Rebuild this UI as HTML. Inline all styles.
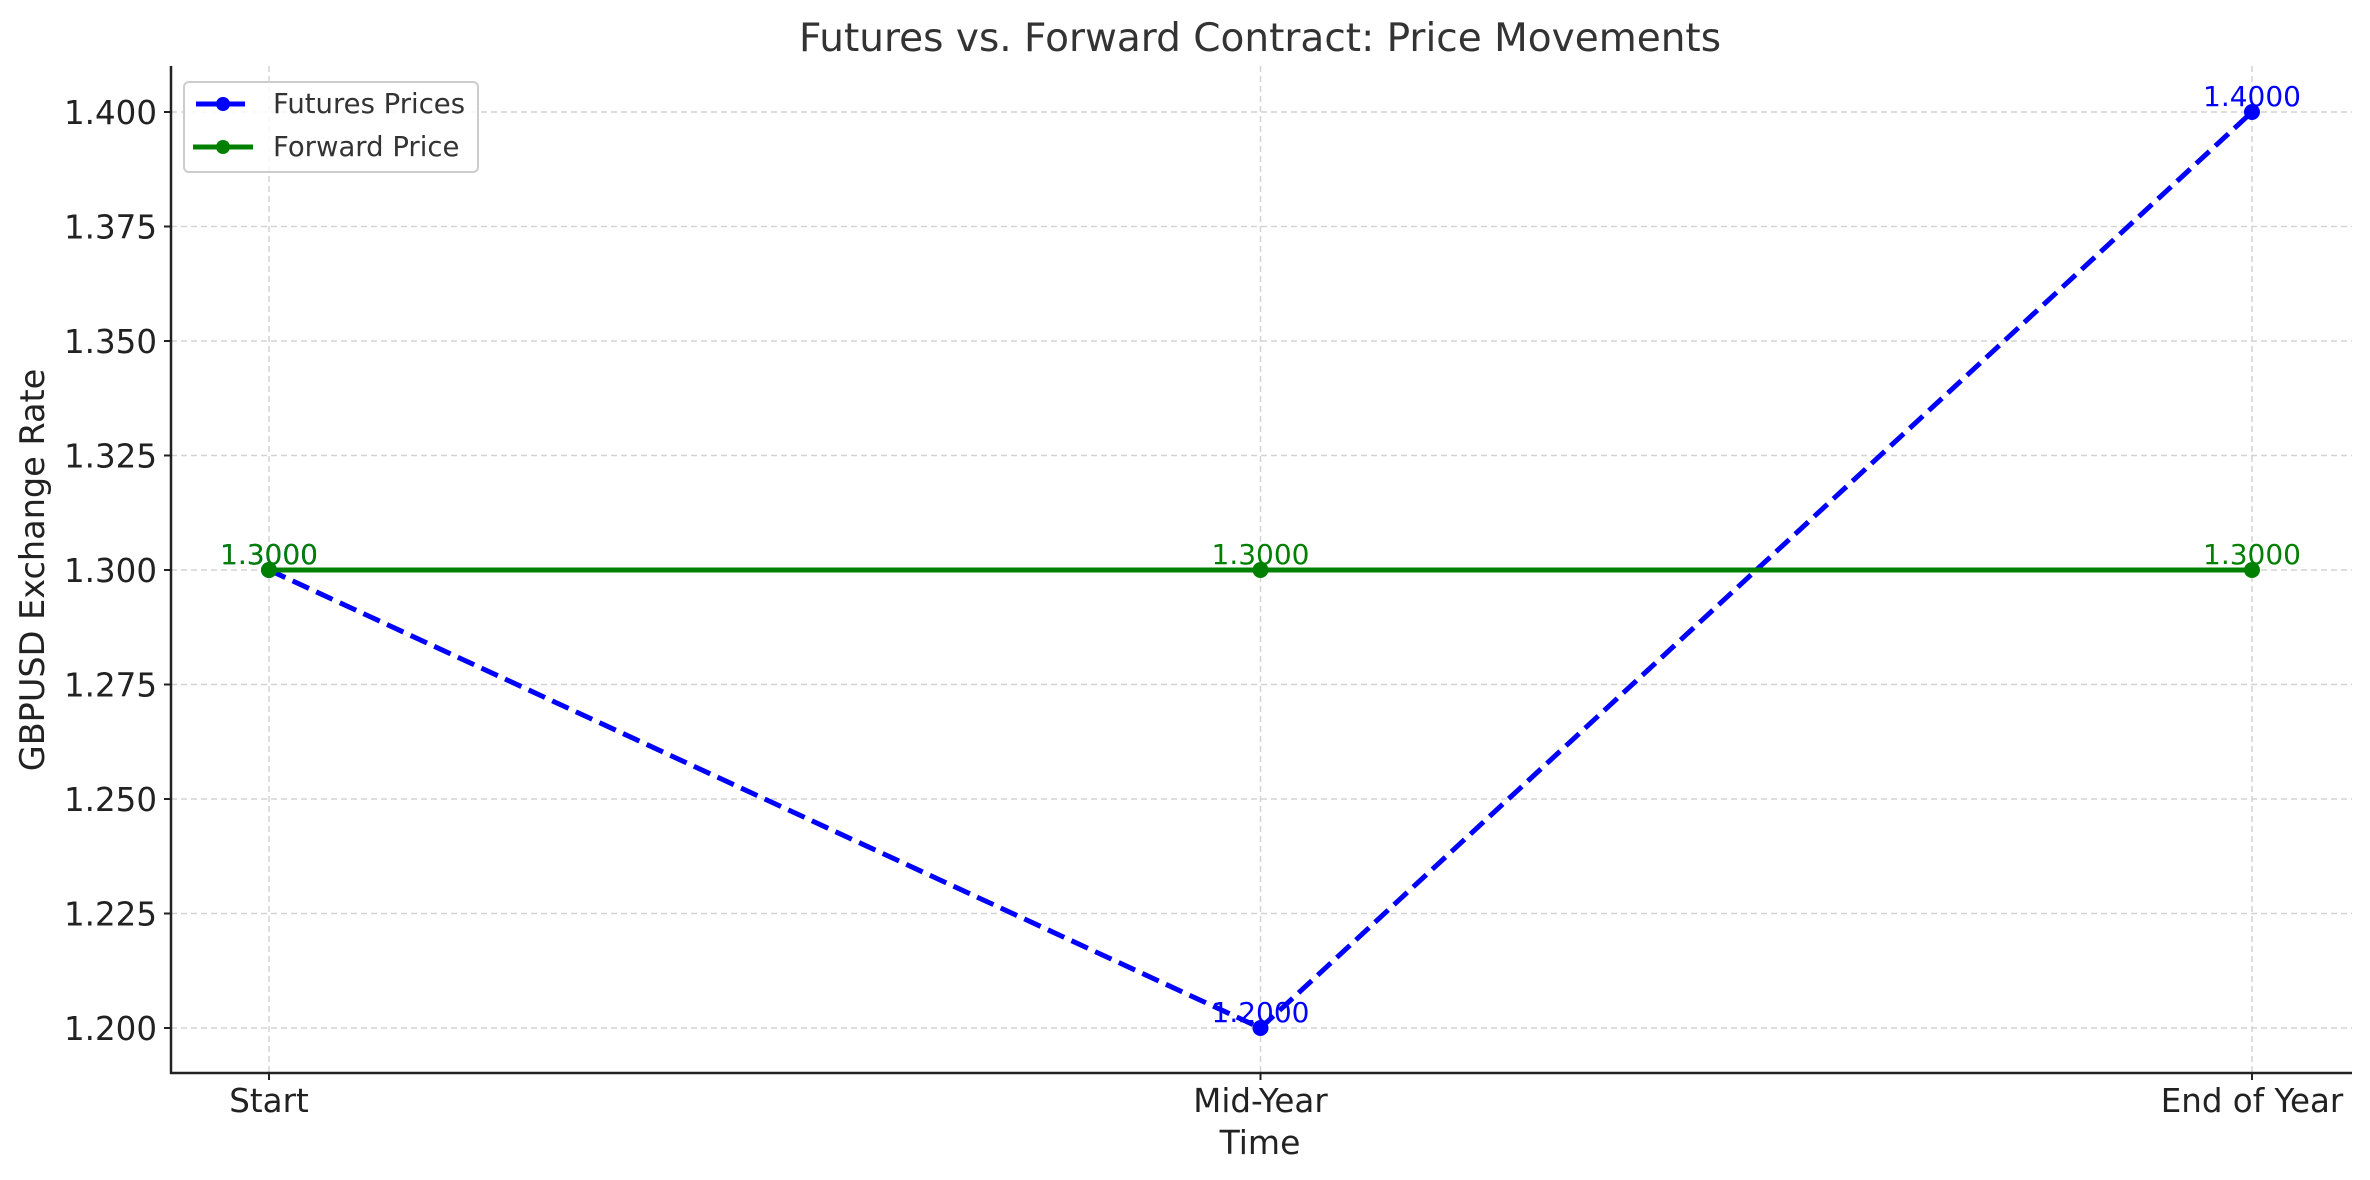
<!DOCTYPE html>
<html><head><meta charset="utf-8"><style>
html,body{margin:0;padding:0;background:#fff;}
svg{display:block;font-family:"DejaVu Sans","Liberation Sans",sans-serif;}
</style></head><body>
<svg id="chart" width="2370" height="1180" viewBox="0 0 2370 1180" xmlns="http://www.w3.org/2000/svg">
<rect width="2370" height="1180" fill="#fff"/>
<text x="1260" y="51" text-anchor="middle" font-size="39" fill="#333">Futures vs. Forward Contract: Price Movements</text>
<g id="grid"></g>
<g id="marks"></g>
<g id="axes"></g>
<text x="1260" y="1154" text-anchor="middle" font-size="33" fill="#222">Time</text>
<text transform="translate(44,570) rotate(-90)" text-anchor="middle" font-size="33.5" fill="#222">GBPUSD Exchange Rate</text>
<g>
<rect x="184" y="82" width="294" height="90" rx="5" fill="#fff" fill-opacity="0.85" stroke="#ccc" stroke-width="2"/>
<g>
<line x1="196" y1="104" x2="245" y2="104" stroke="#0000ff" stroke-width="5"/>
<circle cx="223" cy="104" r="7" fill="#0000ff"/>
<text x="273" y="113" font-size="27.5" fill="#333">Futures Prices</text>
</g>
<g>
<line x1="193" y1="147" x2="253" y2="147" stroke="#008000" stroke-width="5"/>
<circle cx="223" cy="147" r="7" fill="#008000"/>
<text x="273" y="156" font-size="27.5" fill="#333">Forward Price</text>
</g>
</g>
<script>
const categories = ["Start", "Mid-Year", "End of Year"];
const futuresValues = [1.30, 1.20, 1.40];
const forwardValues = [1.30, 1.30, 1.30];
const yTicks = [1.200, 1.225, 1.250, 1.275, 1.300, 1.325, 1.350, 1.375, 1.400];

const NS = "http://www.w3.org/2000/svg";
const L = 171, R = 2352, T = 66, B = 1073;
function xScale(i){ return 269 + i * (2252 - 269) / (categories.length - 1); }
function yScale(v){ return 1028 + (v - 1.2) * (112 - 1028) / 0.2; }
function mk(tag, attrs, parent){
  const e = document.createElementNS(NS, tag);
  for (const k in attrs) e.setAttribute(k, attrs[k]);
  parent.appendChild(e); return e;
}
const grid = document.getElementById('grid');
const marks = document.getElementById('marks');
const axes = document.getElementById('axes');

yTicks.forEach(v => {
  const y = yScale(v);
  const g = mk('line', {x1:L, x2:R, y1:y, y2:y, stroke:'#d3d3d3', 'stroke-width':1.5, 'stroke-dasharray':'6,4'}, grid);
  
  
  const t = mk('line', {x1:L-7, x2:L, y1:y, y2:y, stroke:'#222', 'stroke-width':2}, axes);
  
  
  const lb = mk('text', {x:L-14, y:y+12, 'text-anchor':'end', 'font-size':32.5, fill:'#222'}, axes);
  lb.textContent = v.toFixed(3);
  
  
});
categories.forEach((c, i) => {
  const x = xScale(i);
  const g = mk('line', {x1:x, x2:x, y1:T, y2:B, stroke:'#d3d3d3', 'stroke-width':1.5, 'stroke-dasharray':'6,4'}, grid);
  
  
  const t = mk('line', {x1:x, x2:x, y1:B, y2:B+7, stroke:'#222', 'stroke-width':2}, axes);
  
  
  const lb = mk('text', {x:x, y:B+39, 'text-anchor':'middle', 'font-size':32.5, fill:'#222'}, axes);
  lb.textContent = c;
  
  
});
const sp1 = mk('line', {x1:L, x2:L, y1:T, y2:B+1, stroke:'#222', 'stroke-width':2.5}, axes);


const sp2 = mk('line', {x1:L-1, x2:R, y1:B, y2:B, stroke:'#222', 'stroke-width':2.5}, axes);



function series(vals, color, dash, name){
  const pts = vals.map((v, i) => xScale(i) + ',' + yScale(v)).join(' ');
  const attrs = {points:pts, fill:'none', stroke:color, 'stroke-width':5};
  if (dash) attrs['stroke-dasharray'] = dash;
  const pl = mk('polyline', attrs, marks);
  
  
  vals.forEach((v, i) => {
    const c = mk('circle', {cx:xScale(i), cy:yScale(v), r:8, fill:color}, marks);
    
    
    const t = mk('text', {x:xScale(i), y:yScale(v) - 6, 'text-anchor':'middle', 'font-size':28, fill:color}, marks);
    t.textContent = v.toFixed(4);
    
    
  });
}
series(futuresValues, '#0000ff', '18,8', 'futures');
series(forwardValues, '#008000', null, 'forward');
</script>
</svg>
</body></html>
